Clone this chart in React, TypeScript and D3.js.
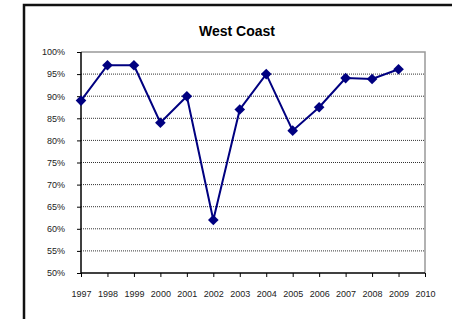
import React, { useRef, useEffect } from "react";
import * as d3 from "d3";

const years = ["1997", "1998", "1999", "2000", "2001", "2002", "2003", "2004", "2005", "2006", "2007", "2008", "2009", "2010"];
const values = [89, 97, 97, 84, 90, 62, 87, 95, 82.2, 87.5, 94.1, 93.9, 96.1];
const yTicks = [50, 55, 60, 65, 70, 75, 80, 85, 90, 95, 100];
const title = "West Coast";

const App = () => {
  const svgRef = useRef<SVGSVGElement>(null);

  useEffect(() => {
    const svg = d3.select(svgRef.current);
    const width = 452;
    const height = 319;
    const left = 81;
    const right = 425;
    const top = 52;
    const bottom = 273;

    svg.attr("width", width).attr("height", height);

    // outer frame (runs off the right and bottom edges)
    svg
      .append("rect")
      .attr("x", 24)
      .attr("y", 5)
      .attr("width", 460)
      .attr("height", 340)
      .attr("fill", "#fff")
      .attr("stroke", "#111")
      .attr("stroke-width", 2.5);

    svg
      .append("text")
      .attr("x", 237)
      .attr("y", 36)
      .attr("text-anchor", "middle")
      .style("font-family", "Arial, 'Liberation Sans', sans-serif")
      .style("font-size", "14px")
      .style("font-weight", "bold")
      .text(title);

    const x = d3.scalePoint().domain(years).range([left, right]);
    const y = d3.scaleLinear().domain([50, 100]).range([bottom, top]);

    // gridlines
    svg
      .append("g")
      .selectAll("line")
      .data(yTicks.filter((t) => t > 50 && t < 100))
      .enter()
      .append("line")
      .attr("x1", left)
      .attr("x2", right)
      .attr("y1", (d) => y(d))
      .attr("y2", (d) => y(d))
      .attr("stroke", "#333")
      .attr("stroke-width", 1)
      .attr("stroke-dasharray", "1,1");

    // gray plot border top and right
    svg
      .append("path")
      .attr("d", `M${left},${top}H${right}V${bottom}`)
      .attr("fill", "none")
      .attr("stroke", "#999")
      .attr("stroke-width", 1.5);

    // axes
    const yAxis = svg
      .append("g")
      .attr("transform", `translate(${left},0)`)
      .call(
        d3
          .axisLeft(y)
          .tickValues(yTicks)
          .tickSize(4)
          .tickPadding(12)
          .tickFormat((d) => `${d}%`)
      );
    const xAxis = svg
      .append("g")
      .attr("transform", `translate(0,${bottom})`)
      .call(d3.axisBottom(x).tickSize(4).tickPadding(14));

    [yAxis, xAxis].forEach((ax) => {
      ax.select(".domain").attr("stroke", "#000").attr("stroke-width", 1.5);
      ax.selectAll(".tick line").attr("stroke", "#000");
      ax.selectAll("text")
        .attr("fill", "#222")
        .style("font-family", "Arial, 'Liberation Sans', sans-serif")
        .style("font-size", "9px");
    });
    xAxis.select(".domain").attr("d", `M${left},0H${right}`);
    yAxis.select(".domain").attr("d", `M0,${bottom}V${top}`);

    // line
    const line = d3
      .line<number>()
      .x((d, i) => x(years[i]) as number)
      .y((d) => y(d));

    svg
      .append("path")
      .datum(values)
      .attr("d", line)
      .attr("fill", "none")
      .attr("stroke", "#000080")
      .attr("stroke-width", 2);

    const diamond = d3.symbol().type(d3.symbolDiamond2).size(72);
    svg
      .append("g")
      .selectAll("path")
      .data(values)
      .enter()
      .append("path")
      .attr("d", diamond)
      .attr("transform", (d, i) => `translate(${x(years[i])},${y(d)})`)
      .attr("fill", "#000080");

    return () => {
      svg.selectAll("*").remove();
    };
  }, []);

  return (
    <svg ref={svgRef} style={{ position: "absolute", left: 0, top: 0 }} />
  );
};

export default App;
